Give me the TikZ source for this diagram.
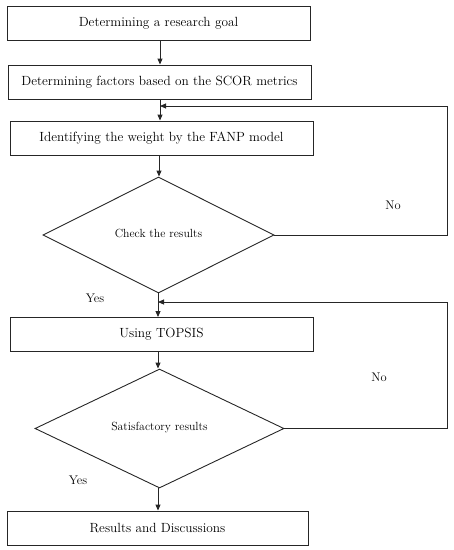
\documentclass[tikz,border=0pt]{standalone}
\usetikzlibrary{shapes.geometric,arrows.meta}
\begin{document}
\begin{tikzpicture}[x=1pt,y=1pt,
  line width=0.9pt, draw=black!85,
  stepbox/.style={draw, rectangle, minimum width=303pt, minimum height=34pt, inner sep=0pt, font=\fontsize{13.3}{15}\selectfont},
  decide/.style={draw, diamond, inner sep=0pt, font=\fontsize{11.8}{13}\selectfont},
  arr/.style={-{Triangle[length=6pt,width=5pt]}},
  lbl/.style={font=\fontsize{12.5}{14}\selectfont, inner sep=0pt}]
\useasboundingbox (0,0) rectangle (454,-550);
\node[stepbox] (b1) at (158.5,-23.5) {\raisebox{1.5pt}{Determining a research goal}};
\node[stepbox] (b2) at (159.5,-82) {\raisebox{1pt}{Determining factors based on the SCOR metrics}};
\node[stepbox] (b3) at (161.5,-138) {\raisebox{1pt}{Identifying the weight by the FANP model}};
\node[decide, minimum width=231pt, minimum height=116pt] (d1) at (158.5,-235) {\raisebox{4pt}{Check the results}};
\node[stepbox] (b4) at (161.5,-334.5) {\raisebox{1pt}{Using TOPSIS}};
\node[decide, minimum width=249pt, minimum height=119pt] (d2) at (159.5,-428.5) {\raisebox{4pt}{Satisfactory results}};
\node[stepbox, minimum width=301pt] (b5) at (157.5,-528) {\raisebox{1pt}{Results and Discussions}};
\coordinate (j1) at (160,-106);
\coordinate (r1) at (447,-235);
\coordinate (j2) at (158,-302);
\coordinate (r2) at (447,-428.5);
\draw[arr] (b1.south -| 160,0) -- (b2.north -| 160,0);
\draw[arr] (b2.south -| 160,0) -- (b3.north -| 160,0);
\draw[arr] (b3.south -| 159,0) -- (d1.north -| 159,0);
\draw[arr] (d1.south -| 158,0) -- (b4.north -| 158,0);
\draw[arr] (b4.south -| 158,0) -- (d2.north -| 158,0);
\draw[arr] (d2.south -| 158,0) -- (b5.north -| 158,0);
\draw[arr] (d1.east) -- (r1) |- (j1);
\draw[arr] (d2.east) -- (r2) |- (j2);
\node[lbl] (no1) at (393,-205) {No};
\node[lbl] (yes1) at (95,-298) {Yes};
\node[lbl] (no2) at (379,-377) {No};
\node[lbl] (yes2) at (78,-480) {Yes};
\end{tikzpicture}
\end{document}
